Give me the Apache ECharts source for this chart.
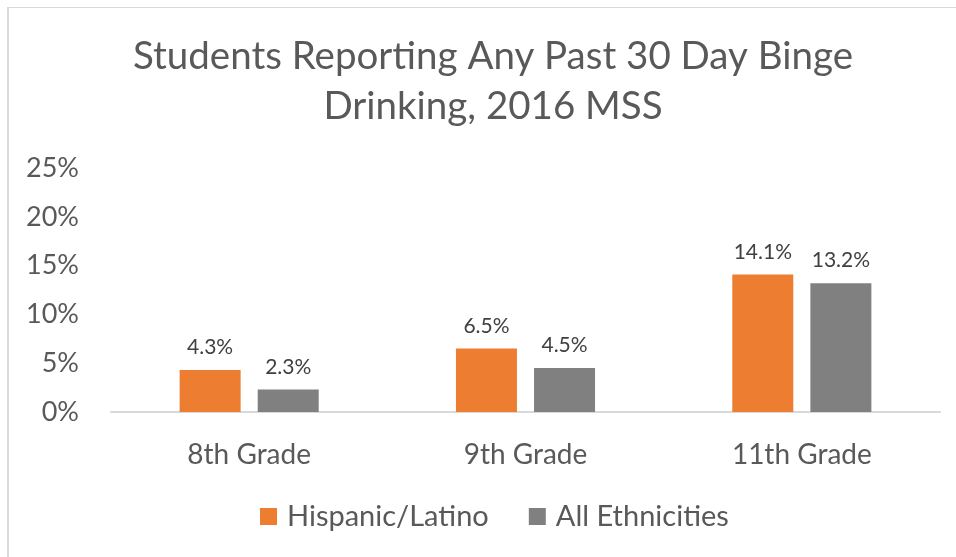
<!DOCTYPE html>
<html>
<head>
<meta charset="utf-8">
<script src="https://cdn.jsdelivr.net/npm/echarts@6/dist/echarts.min.js"></script>
<style>
    html, body { margin: 0; padding: 0; background: #fff; }
    #frame {
        position: absolute; left: 7px; top: 7px; width: 949px; height: 550px;
        border-left: 2px solid #d9d9d9; border-top: 1px solid #d9d9d9;
        box-sizing: border-box;
    }
    #main { position: absolute; left: 0; top: 0; width: 956px; height: 557px; }
</style>
</head>
<body>
<div id="frame"></div>
<div id="main"></div>
<script>
    const grades = ['8th Grade', '9th Grade', '11th Grade'];
    const hispanicLatino = [4.3, 6.5, 14.1];
    const allEthnicities = [2.3, 4.5, 13.2];
    const seriesNames = ['Hispanic/Latino', 'All Ethnicities'];

    const font = 'Lato, "Open Sans", sans-serif';
    const chart = echarts.init(document.getElementById('main'));

    const label = {
        show: true,
        position: 'top',
        distance: 12,
        fontSize: 21,
        fontFamily: font,
        color: '#404040',
        formatter: p => p.value.toFixed(1) + '%'
    };

    chart.setOption({
        animation: false,
        textStyle: { fontFamily: font },
        title: {
            text: 'Students Reporting Any Past 30 Day Binge\nDrinking, 2016 MSS',
            left: 488,
            textAlign: 'center',
            top: 27,
            textStyle: {
                fontSize: 38.5,
                lineHeight: 50,
                fontWeight: 'normal',
                color: '#595959',
                fontFamily: font
            }
        },
        legend: {
            bottom: 21,
            left: 255,
            itemWidth: 17,
            itemHeight: 17,
            itemGap: 40,
            icon: 'rect',
            textStyle: {
                fontSize: 29, color: '#595959', fontFamily: font,
                padding: [0, 0, 0, 5]
            },
            data: seriesNames
        },
        grid: {
            left: 111,
            right: 16,
            top: 168,
            bottom: 145
        },
        xAxis: {
            type: 'category',
            data: grades,
            axisLine: { lineStyle: { color: '#d9d9d9', width: 2 } },
            axisTick: { show: false },
            axisLabel: { fontSize: 28, color: '#595959', margin: 29, fontFamily: font }
        },
        yAxis: {
            type: 'value',
            min: 0,
            max: 25,
            interval: 5,
            splitLine: { show: false },
            axisLine: { show: false },
            axisTick: { show: false },
            axisLabel: {
                fontSize: 27, color: '#595959', margin: 32, fontFamily: font,
                formatter: '{value}%'
            }
        },
        series: [
            {
                name: seriesNames[0],
                type: 'bar',
                data: hispanicLatino,
                barWidth: 61,
                barGap: '28%',
                itemStyle: { color: '#ed7d31' },
                label: label
            },
            {
                name: seriesNames[1],
                type: 'bar',
                data: allEthnicities,
                barWidth: 61,
                itemStyle: { color: '#808080' },
                label: label
            }
        ]
    });
</script>
</body>
</html>
